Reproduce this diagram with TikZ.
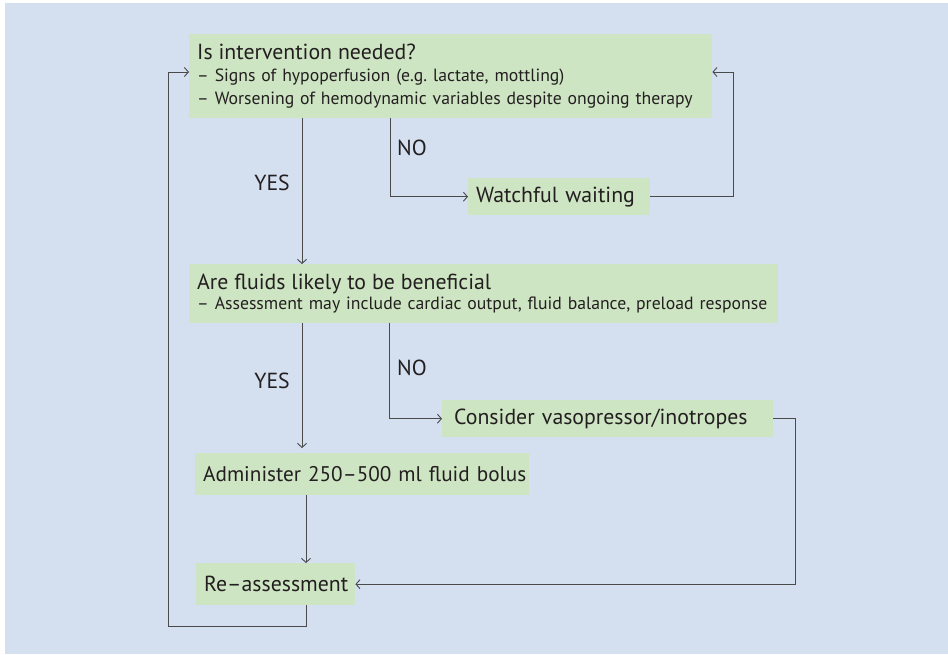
\documentclass[tikz,border=0pt]{standalone}
\usepackage{fontspec}
\setmainfont{PT Sans}
\usetikzlibrary{arrows.meta}
\definecolor{bgblue}{HTML}{D4DFF0}
\definecolor{boxgreen}{HTML}{CEE5C3}
\definecolor{linegray}{HTML}{4A4A4A}
\definecolor{txt}{HTML}{231F20}
\tikzset{
  box/.style={fill=boxgreen, draw=none, anchor=north west, inner xsep=8pt, inner ysep=0pt,
    align=left, text=txt, font=\fontsize{21.8}{24}\selectfont},
  subbox/.style={box, font=\fontsize{17.7}{23.5}\selectfont},
  conn/.style={draw=linegray, line width=0.9pt, -{Straight Barb[length=4pt,width=9pt]}},
  lbl/.style={text=txt, font=\fontsize{21.8}{24}\selectfont, inner sep=0pt}
}
\newcommand{\hdr}[1]{\mbox{\fontsize{21.8}{24}\selectfont #1}}
\frenchspacing
\hbadness=10000 \hfuzz=200pt
\begin{document}
\begin{tikzpicture}[x=1pt,y=-1pt]
\useasboundingbox (0,0) rectangle (948,654);
\fill[white] (0,0) rectangle (948,654);
\fill[bgblue] (5,3) rectangle (948,654);

\node[subbox, minimum width=523pt, minimum height=84pt, text width=507pt] (b1) at (189,34)
  {\hdr{Is intervention needed?}\\[-2pt]
   \mbox{– Signs of hypoperfusion (e.g. lactate, mottling)}\\
   \mbox{– Worsening of hemodynamic variables despite ongoing therapy}};
\node[box, minimum width=182pt, minimum height=37pt, text width=166pt] (wait) at (468,178) {\mbox{Watchful waiting}};
\node[subbox, minimum width=589pt, minimum height=59pt, text width=573pt] (b2) at (189,264)
  {\hdr{Are fluids likely to be beneficial}\\[-3pt]
   \mbox{– Assessment may include cardiac output, fluid balance, preload response}};
\node[box, minimum width=323pt, minimum height=37pt, text width=307pt, inner xsep=12pt] (cons) at (442,400) {\mbox{Consider vasopressor/inotropes}};
\node[box, minimum width=334pt, minimum height=42pt, text width=318pt, font=\fontsize{21.2}{24}\selectfont] (adm) at (195,453) {\mbox{Administer 250–500 ml fluid bolus}};
\node[box, minimum width=159pt, minimum height=42pt, text width=143pt] (re) at (196,563) {\mbox{Re–assessment}};

\node[lbl, anchor=east] (yes1) at (290,183) {YES};
\node[lbl, anchor=west] (no1) at (397,148) {NO};
\node[lbl, anchor=east] (yes2) at (290,381) {YES};
\node[lbl, anchor=west] (no2) at (397,368) {NO};

\draw[conn] ([xshift=113pt]b1.south west) -- ([xshift=113pt]b2.north west);
\draw[conn] ([xshift=201pt]b1.south west) |- (wait.west);
\draw[conn] (wait.east) -- ++(83,0) |- ([yshift=-38pt]b1.north east);
\draw[conn, shorten >=5pt] ([xshift=113pt]b2.south west) -- ([xshift=107pt]adm.north west);
\draw[conn] ([xshift=200pt]b2.south west) |- (cons.west);
\draw[conn] (cons.east) -- ++(22,0) |- (re.east);
\draw[conn] ([xshift=111pt]adm.south west) -- ([xshift=110pt]re.north west);
\draw[conn] ([xshift=110pt]re.south west) -- ++(0,21) -- ++(-138,0) |- ([yshift=-38pt]b1.north west);
\end{tikzpicture}
\end{document}
